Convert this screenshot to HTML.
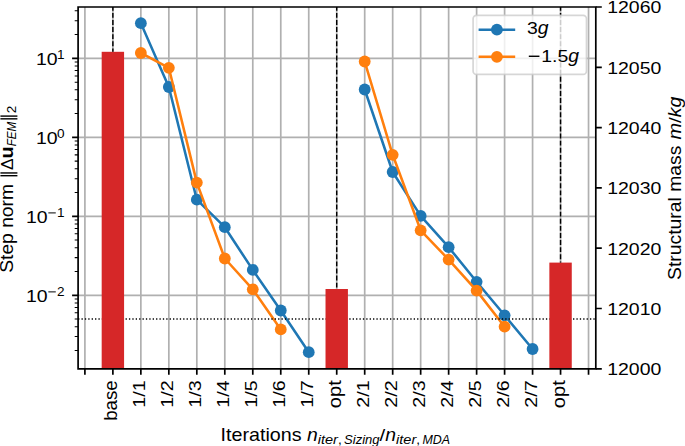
<!DOCTYPE html><html><head><meta charset="utf-8"><style>html,body{margin:0;padding:0;background:#fff;overflow:hidden}svg{display:block}</style></head><body>
<svg width="685" height="446" viewBox="0 0 685 446" font-family="Liberation Sans, sans-serif" fill="#000">
<rect width="685" height="446" fill="#fff"/>
<defs><clipPath id="ax"><rect x="78.1" y="7.0" width="517.6999999999999" height="361.8"/></clipPath></defs>
<path d="M84.90 7.0V368.8M112.88 7.0V368.8M140.86 7.0V368.8M168.84 7.0V368.8M196.82 7.0V368.8M224.80 7.0V368.8M252.78 7.0V368.8M280.76 7.0V368.8M308.74 7.0V368.8M336.72 7.0V368.8M364.70 7.0V368.8M392.68 7.0V368.8M420.66 7.0V368.8M448.64 7.0V368.8M476.62 7.0V368.8M504.60 7.0V368.8M532.58 7.0V368.8M560.56 7.0V368.8M588.54 7.0V368.8M78.1 58.37H595.8M78.1 137.35H595.8M78.1 216.33H595.8M78.1 295.31H595.8" stroke="#b0b0b0" stroke-width="1.7" fill="none"/>
<g clip-path="url(#ax)">
<path d="M140.86 23.20L168.84 87.00L196.82 199.70L224.80 227.20L252.78 269.90L280.76 310.50L308.74 352.20" stroke="#1f77b4" stroke-width="2.55" fill="none" stroke-linejoin="round" stroke-linecap="square"/>
<circle cx="140.86" cy="23.20" r="5.9" fill="#1f77b4"/>
<circle cx="168.84" cy="87.00" r="5.9" fill="#1f77b4"/>
<circle cx="196.82" cy="199.70" r="5.9" fill="#1f77b4"/>
<circle cx="224.80" cy="227.20" r="5.9" fill="#1f77b4"/>
<circle cx="252.78" cy="269.90" r="5.9" fill="#1f77b4"/>
<circle cx="280.76" cy="310.50" r="5.9" fill="#1f77b4"/>
<circle cx="308.74" cy="352.20" r="5.9" fill="#1f77b4"/>
<path d="M364.70 89.50L392.68 172.00L420.66 215.90L448.64 247.20L476.62 281.80L504.60 315.30L532.58 349.00" stroke="#1f77b4" stroke-width="2.55" fill="none" stroke-linejoin="round" stroke-linecap="square"/>
<circle cx="364.70" cy="89.50" r="5.9" fill="#1f77b4"/>
<circle cx="392.68" cy="172.00" r="5.9" fill="#1f77b4"/>
<circle cx="420.66" cy="215.90" r="5.9" fill="#1f77b4"/>
<circle cx="448.64" cy="247.20" r="5.9" fill="#1f77b4"/>
<circle cx="476.62" cy="281.80" r="5.9" fill="#1f77b4"/>
<circle cx="504.60" cy="315.30" r="5.9" fill="#1f77b4"/>
<circle cx="532.58" cy="349.00" r="5.9" fill="#1f77b4"/>
<path d="M140.86 53.00L168.84 67.80L196.82 182.60L224.80 258.50L252.78 289.30L280.76 329.40" stroke="#ff7f0e" stroke-width="2.55" fill="none" stroke-linejoin="round" stroke-linecap="square"/>
<circle cx="140.86" cy="53.00" r="5.9" fill="#ff7f0e"/>
<circle cx="168.84" cy="67.80" r="5.9" fill="#ff7f0e"/>
<circle cx="196.82" cy="182.60" r="5.9" fill="#ff7f0e"/>
<circle cx="224.80" cy="258.50" r="5.9" fill="#ff7f0e"/>
<circle cx="252.78" cy="289.30" r="5.9" fill="#ff7f0e"/>
<circle cx="280.76" cy="329.40" r="5.9" fill="#ff7f0e"/>
<path d="M364.70 61.50L392.68 154.80L420.66 230.30L448.64 259.60L476.62 290.60L504.60 326.70" stroke="#ff7f0e" stroke-width="2.55" fill="none" stroke-linejoin="round" stroke-linecap="square"/>
<circle cx="364.70" cy="61.50" r="5.9" fill="#ff7f0e"/>
<circle cx="392.68" cy="154.80" r="5.9" fill="#ff7f0e"/>
<circle cx="420.66" cy="230.30" r="5.9" fill="#ff7f0e"/>
<circle cx="448.64" cy="259.60" r="5.9" fill="#ff7f0e"/>
<circle cx="476.62" cy="290.60" r="5.9" fill="#ff7f0e"/>
<circle cx="504.60" cy="326.70" r="5.9" fill="#ff7f0e"/>
<path d="M78.1 319.0H595.8" stroke="#000" stroke-width="1.36" stroke-dasharray="1.3 2.09" fill="none"/>
<rect x="101.68" y="51.8" width="22.4" height="317.00" fill="#d62728"/>
<rect x="325.52" y="289.0" width="22.4" height="79.80" fill="#d62728"/>
<rect x="549.36" y="262.6" width="22.4" height="106.20" fill="#d62728"/>
<path d="M112.88 5.80V51.8" stroke="#000" stroke-width="1.45" stroke-dasharray="4.9 2.2" fill="none"/>
<path d="M336.72 5.80V289.0" stroke="#000" stroke-width="1.45" stroke-dasharray="4.9 2.2" fill="none"/>
<path d="M560.56 5.80V262.6" stroke="#000" stroke-width="1.45" stroke-dasharray="4.9 2.2" fill="none"/>
</g>
<rect x="473.1" y="15.3" width="113.40" height="59.00" rx="3.4" fill="#fff" fill-opacity="0.8" stroke="#cccccc" stroke-opacity="0.8" stroke-width="1.7"/>
<path d="M478.6 29.7H515.2" stroke="#1f77b4" stroke-width="2.55" fill="none"/>
<circle cx="496.9" cy="29.7" r="5.9" fill="#1f77b4"/>
<path d="M478.6 56.8H515.2" stroke="#ff7f0e" stroke-width="2.55" fill="none"/>
<circle cx="496.9" cy="56.8" r="5.9" fill="#ff7f0e"/>
<text x="527.00" y="34.40" font-size="17.30" textLength="10.82" lengthAdjust="spacingAndGlyphs">3</text>
<text x="537.82" y="34.40" font-size="17.70" font-style="italic" textLength="10.79" lengthAdjust="spacingAndGlyphs">g</text>
<rect x="528.80" y="55.57" width="10.64" height="1.41"/>
<text x="541.24" y="61.60" font-size="17.30" textLength="27.04" lengthAdjust="spacingAndGlyphs">1.5</text>
<text x="568.28" y="61.60" font-size="17.70" font-style="italic" textLength="10.79" lengthAdjust="spacingAndGlyphs">g</text>
<path d="M78.1 7.0H595.8V368.8H78.1Z" stroke="#000" stroke-width="1.7" fill="none" stroke-linejoin="miter"/>
<path d="M84.90 368.8v6.0M112.88 368.8v6.0M140.86 368.8v6.0M168.84 368.8v6.0M196.82 368.8v6.0M224.80 368.8v6.0M252.78 368.8v6.0M280.76 368.8v6.0M308.74 368.8v6.0M336.72 368.8v6.0M364.70 368.8v6.0M392.68 368.8v6.0M420.66 368.8v6.0M448.64 368.8v6.0M476.62 368.8v6.0M504.60 368.8v6.0M532.58 368.8v6.0M560.56 368.8v6.0M588.54 368.8v6.0M78.1 58.37h-6.0M78.1 137.35h-6.0M78.1 216.33h-6.0M78.1 295.31h-6.0M595.8 368.80h6.0M595.8 308.50h6.0M595.8 248.20h6.0M595.8 187.90h6.0M595.8 127.60h6.0M595.8 67.30h6.0M595.8 7.00h6.0" stroke="#000" stroke-width="1.7" fill="none"/>
<path d="M78.1 350.51h-3.4M78.1 336.61h-3.4M78.1 326.74h-3.4M78.1 319.09h-3.4M78.1 312.83h-3.4M78.1 307.54h-3.4M78.1 302.96h-3.4M78.1 298.92h-3.4M78.1 271.53h-3.4M78.1 257.63h-3.4M78.1 247.76h-3.4M78.1 240.11h-3.4M78.1 233.85h-3.4M78.1 228.56h-3.4M78.1 223.98h-3.4M78.1 219.94h-3.4M78.1 192.55h-3.4M78.1 178.65h-3.4M78.1 168.78h-3.4M78.1 161.13h-3.4M78.1 154.87h-3.4M78.1 149.58h-3.4M78.1 145.00h-3.4M78.1 140.96h-3.4M78.1 113.57h-3.4M78.1 99.67h-3.4M78.1 89.80h-3.4M78.1 82.15h-3.4M78.1 75.89h-3.4M78.1 70.60h-3.4M78.1 66.02h-3.4M78.1 61.98h-3.4M78.1 34.59h-3.4M78.1 20.69h-3.4M78.1 10.82h-3.4" stroke="#000" stroke-width="1.02" fill="none"/>
<text x="36.00" y="65.17" font-size="17.30" textLength="21.63" lengthAdjust="spacingAndGlyphs">10</text>
<text x="57.03" y="58.67" font-size="12.11" textLength="7.57" lengthAdjust="spacingAndGlyphs">1</text>
<text x="36.00" y="144.15" font-size="17.30" textLength="21.63" lengthAdjust="spacingAndGlyphs">10</text>
<text x="57.03" y="137.65" font-size="12.11" textLength="7.57" lengthAdjust="spacingAndGlyphs">0</text>
<text x="26.03" y="223.13" font-size="17.30" textLength="21.63" lengthAdjust="spacingAndGlyphs">10</text>
<rect x="48.32" y="212.41" width="7.45" height="0.99"/>
<text x="57.03" y="216.63" font-size="12.11" textLength="7.57" lengthAdjust="spacingAndGlyphs">1</text>
<text x="26.03" y="302.11" font-size="17.30" textLength="21.63" lengthAdjust="spacingAndGlyphs">10</text>
<rect x="48.32" y="291.39" width="7.45" height="0.99"/>
<text x="57.03" y="295.61" font-size="12.11" textLength="7.57" lengthAdjust="spacingAndGlyphs">2</text>
<text x="607.20" y="375.20" font-size="17.30" textLength="54.08" lengthAdjust="spacingAndGlyphs">12000</text>
<text x="607.20" y="314.90" font-size="17.30" textLength="54.08" lengthAdjust="spacingAndGlyphs">12010</text>
<text x="607.20" y="254.60" font-size="17.30" textLength="54.08" lengthAdjust="spacingAndGlyphs">12020</text>
<text x="607.20" y="194.30" font-size="17.30" textLength="54.08" lengthAdjust="spacingAndGlyphs">12030</text>
<text x="607.20" y="134.00" font-size="17.30" textLength="54.08" lengthAdjust="spacingAndGlyphs">12040</text>
<text x="607.20" y="73.70" font-size="17.30" textLength="54.08" lengthAdjust="spacingAndGlyphs">12050</text>
<text x="607.20" y="13.40" font-size="17.30" textLength="54.08" lengthAdjust="spacingAndGlyphs">12060</text>
<g transform="translate(117.08 0) rotate(-90)">
<text x="-420.82" y="0.00" font-size="17.70" textLength="40.52" lengthAdjust="spacingAndGlyphs">base</text>
</g>
<g transform="translate(145.06 0) rotate(-90)">
<text x="-407.66" y="0.00" font-size="17.30" textLength="27.36" lengthAdjust="spacingAndGlyphs">1/1</text>
</g>
<g transform="translate(173.04 0) rotate(-90)">
<text x="-407.66" y="0.00" font-size="17.30" textLength="27.36" lengthAdjust="spacingAndGlyphs">1/2</text>
</g>
<g transform="translate(201.02 0) rotate(-90)">
<text x="-407.66" y="0.00" font-size="17.30" textLength="27.36" lengthAdjust="spacingAndGlyphs">1/3</text>
</g>
<g transform="translate(229.00 0) rotate(-90)">
<text x="-407.66" y="0.00" font-size="17.30" textLength="27.36" lengthAdjust="spacingAndGlyphs">1/4</text>
</g>
<g transform="translate(256.98 0) rotate(-90)">
<text x="-407.66" y="0.00" font-size="17.30" textLength="27.36" lengthAdjust="spacingAndGlyphs">1/5</text>
</g>
<g transform="translate(284.96 0) rotate(-90)">
<text x="-407.66" y="0.00" font-size="17.30" textLength="27.36" lengthAdjust="spacingAndGlyphs">1/6</text>
</g>
<g transform="translate(312.94 0) rotate(-90)">
<text x="-407.66" y="0.00" font-size="17.30" textLength="27.36" lengthAdjust="spacingAndGlyphs">1/7</text>
</g>
<g transform="translate(340.92 0) rotate(-90)">
<text x="-408.16" y="0.00" font-size="17.70" textLength="27.86" lengthAdjust="spacingAndGlyphs">opt</text>
</g>
<g transform="translate(368.90 0) rotate(-90)">
<text x="-407.66" y="0.00" font-size="17.30" textLength="27.36" lengthAdjust="spacingAndGlyphs">2/1</text>
</g>
<g transform="translate(396.88 0) rotate(-90)">
<text x="-407.66" y="0.00" font-size="17.30" textLength="27.36" lengthAdjust="spacingAndGlyphs">2/2</text>
</g>
<g transform="translate(424.86 0) rotate(-90)">
<text x="-407.66" y="0.00" font-size="17.30" textLength="27.36" lengthAdjust="spacingAndGlyphs">2/3</text>
</g>
<g transform="translate(452.84 0) rotate(-90)">
<text x="-407.66" y="0.00" font-size="17.30" textLength="27.36" lengthAdjust="spacingAndGlyphs">2/4</text>
</g>
<g transform="translate(480.82 0) rotate(-90)">
<text x="-407.66" y="0.00" font-size="17.30" textLength="27.36" lengthAdjust="spacingAndGlyphs">2/5</text>
</g>
<g transform="translate(508.80 0) rotate(-90)">
<text x="-407.66" y="0.00" font-size="17.30" textLength="27.36" lengthAdjust="spacingAndGlyphs">2/6</text>
</g>
<g transform="translate(536.78 0) rotate(-90)">
<text x="-407.66" y="0.00" font-size="17.30" textLength="27.36" lengthAdjust="spacingAndGlyphs">2/7</text>
</g>
<g transform="translate(564.76 0) rotate(-90)">
<text x="-408.16" y="0.00" font-size="17.70" textLength="27.86" lengthAdjust="spacingAndGlyphs">opt</text>
</g>
<text x="220.60" y="441.00" font-size="17.70" textLength="80.97" lengthAdjust="spacingAndGlyphs">Iterations</text>
<text x="306.97" y="441.00" font-size="17.70" font-style="italic" textLength="10.77" lengthAdjust="spacingAndGlyphs">n</text>
<text x="317.74" y="444.20" font-size="12.39" font-style="italic" textLength="20.19" lengthAdjust="spacingAndGlyphs">iter</text>
<text x="337.93" y="444.20" font-size="12.11" textLength="3.78" lengthAdjust="spacingAndGlyphs">,</text>
<text x="344.09" y="444.20" font-size="12.39" font-style="italic" textLength="35.51" lengthAdjust="spacingAndGlyphs">Sizing</text>
<text x="379.60" y="441.00" font-size="17.30" textLength="5.73" lengthAdjust="spacingAndGlyphs">/</text>
<text x="385.33" y="441.00" font-size="17.70" font-style="italic" textLength="10.77" lengthAdjust="spacingAndGlyphs">n</text>
<text x="396.10" y="444.20" font-size="12.39" font-style="italic" textLength="20.19" lengthAdjust="spacingAndGlyphs">iter</text>
<text x="416.29" y="444.20" font-size="12.11" textLength="3.78" lengthAdjust="spacingAndGlyphs">,</text>
<text x="422.45" y="444.20" font-size="12.11" font-style="italic" textLength="27.57" lengthAdjust="spacingAndGlyphs">MDA</text>
<g transform="translate(13.4 0) rotate(-90)">
<text x="-272.80" y="0.00" font-size="17.70" textLength="88.83" lengthAdjust="spacingAndGlyphs">Step norm</text>
<rect x="-176.40" y="-12.99" width="1.41" height="17.00"/>
<rect x="-173.66" y="-12.99" width="1.41" height="17.00"/>
<text x="-170.06" y="0.00" font-size="17.30" textLength="11.63" lengthAdjust="spacingAndGlyphs">Δ</text>
<text x="-158.43" y="0.00" font-size="17.70" font-weight="bold" textLength="12.10" lengthAdjust="spacingAndGlyphs">u</text>
<text x="-146.33" y="3.00" font-size="12.11" font-style="italic" textLength="24.63" lengthAdjust="spacingAndGlyphs">FEM</text>
<rect x="-119.54" y="-12.99" width="1.41" height="17.00"/>
<rect x="-116.80" y="-12.99" width="1.41" height="17.00"/>
<text x="-113.20" y="3.00" font-size="12.11" textLength="7.57" lengthAdjust="spacingAndGlyphs">2</text>
</g>
<g transform="translate(681.0 0) rotate(-90)">
<text x="-279.90" y="0.00" font-size="17.70" textLength="134.23" lengthAdjust="spacingAndGlyphs">Structural mass</text>
<text x="-139.46" y="0.00" font-size="17.70" font-style="italic" textLength="16.56" lengthAdjust="spacingAndGlyphs">m</text>
<text x="-122.90" y="0.00" font-size="17.30" textLength="5.73" lengthAdjust="spacingAndGlyphs">/</text>
<text x="-117.18" y="0.00" font-size="17.70" font-style="italic" textLength="20.64" lengthAdjust="spacingAndGlyphs">kg</text>
</g>
</svg></body></html>
